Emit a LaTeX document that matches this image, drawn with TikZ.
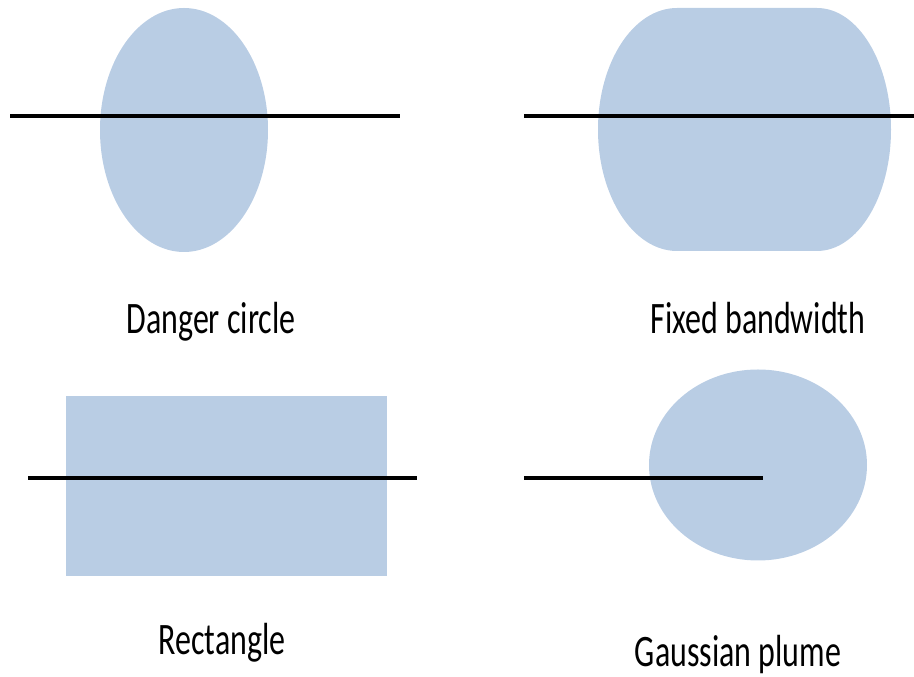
\documentclass[tikz,border=0pt]{standalone}
\usepackage{fontspec}
\setmainfont{Carlito}
\usepackage{tikz}
\definecolor{zone}{RGB}{185,205,228}

\begin{document}
\begin{tikzpicture}[x=1pt, y=1pt, line width=3.5pt,
        area/.style={fill=zone, draw=none},
        caption/.style={anchor=base, inner sep=0pt, font=\fontsize{45}{50}\selectfont, xscale=0.71}]
        \useasboundingbox (0,0) rectangle (914,677);

        % danger circle
        \fill[area] (184,547) ellipse [x radius=84, y radius=122];
        \coordinate (d1) at (10,561);
        \coordinate (d2) at (400,561);
        \draw (d1) -- (d2);
        \node[caption] (dc) at (211,343) {Danger circle};

        % fixed bandwidth
        \fill[area] (677,669) -- (817,669)
              arc[start angle=90, end angle=-90, x radius=74, y radius=121.5]
              -- (677,426)
              arc[start angle=270, end angle=90, x radius=79, y radius=121.5] -- cycle;
        \coordinate (f1) at (524,561);
        \coordinate (f2) at (914,561);
        \draw (f1) -- (f2);
        \node[caption] (fb) at (758,343) {Fixed bandwidth};

        % rectangle
        \fill[area] (66,101) rectangle (387,281);
        \coordinate (r1) at (28,199);
        \coordinate (r2) at (417,199);
        \draw (r1) -- (r2);
        \node[caption] (re) at (222,22) {Rectangle};

        % gaussian plume
        \fill[area] (758,212) ellipse [x radius=109, y radius=95.5];
        \coordinate (g1) at (524,199);
        \coordinate (g2) at (763,199);
        \draw (g1) -- (g2);
        \node[caption] (gp) at (738,10) {Gaussian plume};
    \end{tikzpicture}
\end{document}
